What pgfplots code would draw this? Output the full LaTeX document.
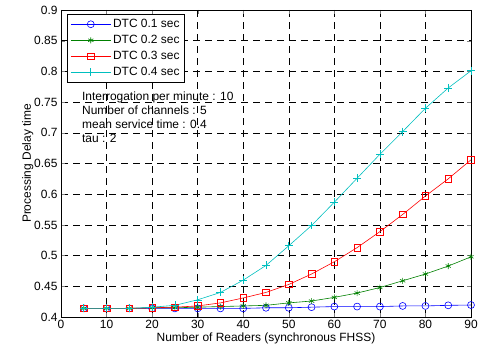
\documentclass[border=0pt]{standalone}
\usepackage{fontspec}
\setmainfont{Liberation Sans}
\usepackage{pgfplots}
\pgfplotsset{compat=1.18}
\usetikzlibrary{calc}
\definecolor{mgreen}{rgb}{0,0.5,0}
\definecolor{mcyan}{rgb}{0,0.75,0.75}
\begin{document}
\begin{tikzpicture}
\begin{axis}[
  scale only axis, width=410bp, height=307bp,
  xmin=0, xmax=90, ymin=0.4, ymax=0.9,
  xtick={0,10,...,90}, ytick={0.4,0.45,...,0.9},
  yticklabel style={/pgf/number format/fixed,/pgf/number format/precision=2},
  /pgf/number format/assume math mode=true,
  tick align=inside, tick pos=both,
  major tick length=4bp,
  grid=major, major grid style={black, dash pattern=on 7bp off 5bp, line width=0.55pt},
  axis line style={black, line width=0.7pt},
  tick label style={font=\fontsize{12}{14}\selectfont},
  label style={font=\fontsize{12}{14}\selectfont},
  xlabel={Number of Readers (synchronous FHSS)},
  ylabel={Processing Delay time},
  xlabel style={yshift=3bp},
  ylabel style={yshift=-6bp},
  legend style={at={(rel axis cs:0.015,0.987)}, anchor=north west, draw=black, line width=0.7pt, font=\fontsize{12}{14}\selectfont, row sep=2.2bp, inner sep=3pt},
  legend cell align=left,
  legend image code/.code={\draw[mark repeat=2,mark phase=2] plot coordinates {(0bp,0bp)(20bp,0bp)(40bp,0bp)};},
  every axis plot/.append style={line width=0.6pt},
]
\addplot[blue, mark=o, mark size=3.5pt] coordinates {(5,0.414)(10,0.414)(15,0.414)(20,0.414)(25,0.414)(30,0.414)(35,0.414)(40,0.414)(45,0.415)(50,0.415)(55,0.416)(60,0.417)(65,0.417)(70,0.417)(75,0.418)(80,0.418)(85,0.419)(90,0.4195)};
\addlegendentry{DTC 0.1 sec}
\addplot[mgreen, mark=asterisk, mark size=3pt] coordinates {(5,0.414)(10,0.414)(15,0.414)(20,0.415)(25,0.415)(30,0.416)(35,0.417)(40,0.418)(45,0.419)(50,0.423)(55,0.426)(60,0.432)(65,0.439)(70,0.448)(75,0.459)(80,0.470)(85,0.483)(90,0.498)};
\addlegendentry{DTC 0.2 sec}
\addplot[red, mark=square, mark size=3.3pt] coordinates {(5,0.414)(10,0.414)(15,0.414)(20,0.415)(25,0.416)(30,0.418)(35,0.423)(40,0.431)(45,0.440)(50,0.453)(55,0.470)(60,0.490)(65,0.513)(70,0.539)(75,0.567)(80,0.597)(85,0.625)(90,0.656)};
\addlegendentry{DTC 0.3 sec}
\addplot[mcyan, mark=+, mark size=4pt] coordinates {(5,0.414)(10,0.414)(15,0.414)(20,0.416)(25,0.419)(30,0.428)(35,0.440)(40,0.460)(45,0.484)(50,0.516)(55,0.549)(60,0.587)(65,0.626)(70,0.665)(75,0.702)(80,0.740)(85,0.773)(90,0.801)};
\addlegendentry{DTC 0.4 sec}
\node[anchor=north west, align=left, font=\fontsize{12}{14.2}\selectfont, inner sep=0pt] at (axis cs:4.6,0.767) {Interrogation per minute : 10\\Number of channels : 5\\mean service time : 0.4\\tau : 2};
\end{axis}
\pgfresetboundingbox
\path ($(current axis.south west)+(-61bp,-36bp)$) rectangle ($(current axis.north east)+(9bp,10bp)$);
\end{tikzpicture}
\end{document}
